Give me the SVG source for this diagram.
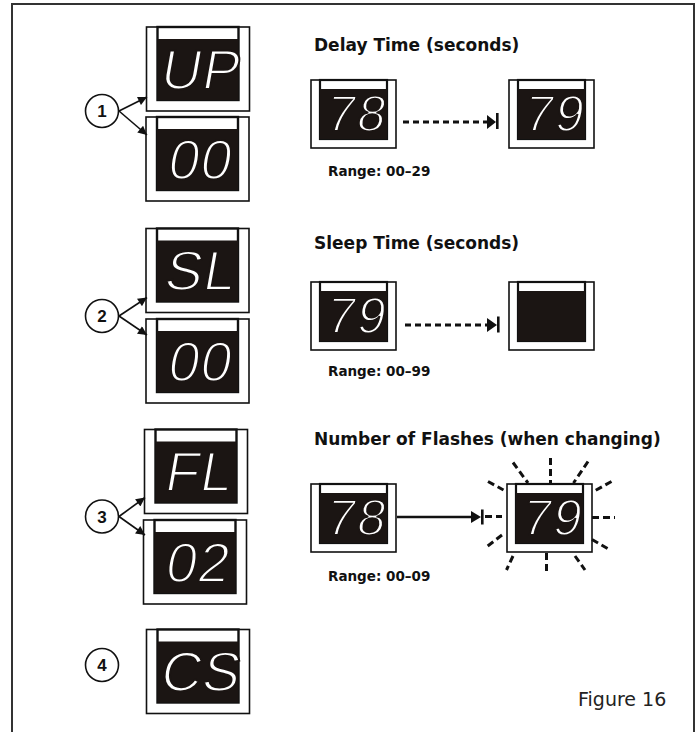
<svg xmlns="http://www.w3.org/2000/svg" xmlns:xlink="http://www.w3.org/1999/xlink" width="699" height="732" viewBox="0 0 699 732">
<style>
.hd{font-family:"DejaVu Sans","Liberation Sans",sans-serif;font-weight:bold;font-size:17px;fill:#111}
.rg{font-family:"DejaVu Sans","Liberation Sans",sans-serif;font-weight:bold;font-size:13.5px;fill:#111}
.num{font-family:"Liberation Sans",Arial,sans-serif;font-weight:bold;font-size:17px;fill:#111;text-anchor:middle}
.fig{font-family:"DejaVu Sans","Liberation Sans",sans-serif;font-size:19px;fill:#222}
.seg{font-family:"Liberation Sans",Arial,sans-serif;fill:#fff;stroke:#1b1513;stroke-width:2;text-anchor:middle}
.segL{font-size:56px;letter-spacing:1px}
.segR{font-size:51px;letter-spacing:2px}
.ray{stroke:#111;stroke-width:3;stroke-dasharray:7 4;fill:none}
.con{stroke:#111;fill:none}
</style>
<defs>
<marker id="ah" viewBox="0 0 10 10" refX="10" refY="5" markerWidth="10" markerHeight="9" markerUnits="userSpaceOnUse" orient="auto"><path d="M0,0 L10,5 L0,10 z" fill="#111"/></marker>
<g id="lbox">
<rect x="0" y="0" width="103" height="84" fill="#fff" stroke="#111" stroke-width="1.6"/>
<rect x="11" y="0" width="81" height="73" fill="#fff" stroke="#111" stroke-width="2.4"/>
<rect x="11" y="12" width="81" height="61" fill="#1b1513"/>
</g>
<g id="rbox">
<rect x="0" y="0" width="85" height="68" fill="#fff" stroke="#111" stroke-width="1.6"/>
<rect x="9" y="0" width="67" height="59" fill="#fff" stroke="#111" stroke-width="2.2"/>
<rect x="9" y="9" width="67" height="50" fill="#1b1513"/>
</g>
</defs>
<rect width="699" height="732" fill="#fff"/>
<path d="M12,732 V4 H694 V732" fill="none" stroke="#333" stroke-width="2"/>

<g id="disp-up" transform="translate(146.5,27)"><use xlink:href="#lbox"/><text class="seg segL" x="52" y="62" transform="skewX(-10) translate(11,0)">UP</text></g>
<g id="disp-00a" transform="translate(146,117)"><use xlink:href="#lbox"/><text class="seg segL" x="52" y="62" transform="skewX(-10) translate(11,0)">00</text></g>
<g id="disp-sl" transform="translate(146,228.5)"><use xlink:href="#lbox"/><text class="seg segL" x="52" y="62" transform="skewX(-10) translate(11,0)">SL</text></g>
<g id="disp-00b" transform="translate(146,319)"><use xlink:href="#lbox"/><text class="seg segL" x="52" y="62" transform="skewX(-10) translate(11,0)">00</text></g>
<g id="disp-fl" transform="translate(144.5,429.5)"><use xlink:href="#lbox"/><text class="seg segL" x="52" y="62" transform="skewX(-10) translate(11,0)">FL</text></g>
<g id="disp-02" transform="translate(143.5,520)"><use xlink:href="#lbox"/><text class="seg segL" x="52" y="62" transform="skewX(-10) translate(11,0)">02</text></g>
<g id="disp-cs" transform="translate(146.5,629.5)"><use xlink:href="#lbox"/><text class="seg segL" x="52" y="62" transform="skewX(-10) translate(11,0)">CS</text></g>

<g id="step1"><circle cx="102" cy="111" r="16.5" fill="#fff" stroke="#111" stroke-width="1.6"/><text class="num" x="102" y="117">1</text></g>
<g id="step2"><circle cx="102" cy="316" r="16.5" fill="#fff" stroke="#111" stroke-width="1.6"/><text class="num" x="102" y="322">2</text></g>
<g id="step3"><circle cx="102" cy="516.5" r="16.5" fill="#fff" stroke="#111" stroke-width="1.6"/><text class="num" x="102" y="522.5">3</text></g>
<g id="step4"><circle cx="102" cy="665" r="16.5" fill="#fff" stroke="#111" stroke-width="1.6"/><text class="num" x="102" y="671">4</text></g>

<text class="hd" x="314" y="51">Delay Time (seconds)</text>
<text class="hd" x="314" y="249">Sleep Time (seconds)</text>
<text class="hd" x="314" y="445">Number of Flashes (when changing)</text>

<g id="delay-78" transform="translate(311,80)"><use xlink:href="#rbox"/><text class="seg segR" x="44" y="51.5" transform="skewX(-10) translate(9,0)">78</text></g>
<g id="delay-79" transform="translate(509,80)"><use xlink:href="#rbox"/><text class="seg segR" x="44" y="51.5" transform="skewX(-10) translate(9,0)">79</text></g>
<g id="sleep-79" transform="translate(311,282)"><use xlink:href="#rbox"/><text class="seg segR" x="44" y="51.5" transform="skewX(-10) translate(9,0)">79</text></g>
<g id="sleep-off" transform="translate(509,282)"><use xlink:href="#rbox"/></g>
<g id="flash-78" transform="translate(311,484)"><use xlink:href="#rbox"/><text class="seg segR" x="44" y="51.5" transform="skewX(-10) translate(9,0)">78</text></g>
<g id="flash-79" transform="translate(507,484)"><use xlink:href="#rbox"/><text class="seg segR" x="44" y="51.5" transform="skewX(-10) translate(9,0)">79</text></g>

<text class="rg" x="328" y="176">Range: 00–29</text>
<text class="rg" x="328" y="376">Range: 00–99</text>
<text class="rg" x="328" y="581">Range: 00–09</text>

<g id="rays">
<line class="ray" x1="550.5" y1="458" x2="550.5" y2="483"/>
<line class="ray" x1="546.5" y1="553" x2="546.5" y2="573"/>
<line class="ray" x1="592" y1="517.5" x2="615" y2="517.5"/>
<line class="ray" x1="485" y1="516.5" x2="502" y2="516.5"/>
<line class="ray" x1="513" y1="462.5" x2="528" y2="483"/>
<line class="ray" x1="588" y1="461.5" x2="573.5" y2="483"/>
<line class="ray" x1="488" y1="481.5" x2="503.5" y2="490"/>
<line class="ray" x1="611.5" y1="481.5" x2="593.5" y2="491.5"/>
<line class="ray" x1="502" y1="535" x2="487" y2="546.5"/>
<line class="ray" x1="592" y1="539.5" x2="610" y2="550"/>
<line class="ray" x1="513" y1="556" x2="506.5" y2="570"/>
<line class="ray" x1="575" y1="556" x2="585" y2="570"/>
</g>

<g id="connectors">
<line class="con" stroke-width="1.6" x1="119" y1="111" x2="147" y2="97" marker-end="url(#ah)"/>
<line class="con" stroke-width="1.6" x1="119" y1="111" x2="147" y2="135" marker-end="url(#ah)"/>
<line class="con" stroke-width="1.6" x1="119" y1="316" x2="147" y2="297.5" marker-end="url(#ah)"/>
<line class="con" stroke-width="1.6" x1="119" y1="316" x2="147" y2="335" marker-end="url(#ah)"/>
<line class="con" stroke-width="1.6" x1="119" y1="516.5" x2="145" y2="497.5" marker-end="url(#ah)"/>
<line class="con" stroke-width="1.6" x1="119" y1="516.5" x2="145" y2="535" marker-end="url(#ah)"/>

<line class="con" stroke-width="3" stroke-dasharray="6 4" x1="403" y1="122" x2="487" y2="122"/>
<path d="M487,115 L496,122 L487,129 z" fill="#111"/>
<rect x="496" y="113" width="2.6" height="16" fill="#111"/>

<line class="con" stroke-width="3" stroke-dasharray="6 4" x1="405" y1="325" x2="487" y2="325"/>
<path d="M487,318 L497,325 L487,332 z" fill="#111"/>
<rect x="497" y="316.5" width="2.6" height="16" fill="#111"/>

<line class="con" stroke-width="2.5" x1="397" y1="517" x2="474" y2="517"/>
<path d="M471,511 L481,517 L471,523 z" fill="#111"/>
<rect x="481" y="509.5" width="2.6" height="15" fill="#111"/>
</g>

<text class="fig" x="578" y="706">Figure 16</text>
</svg>
